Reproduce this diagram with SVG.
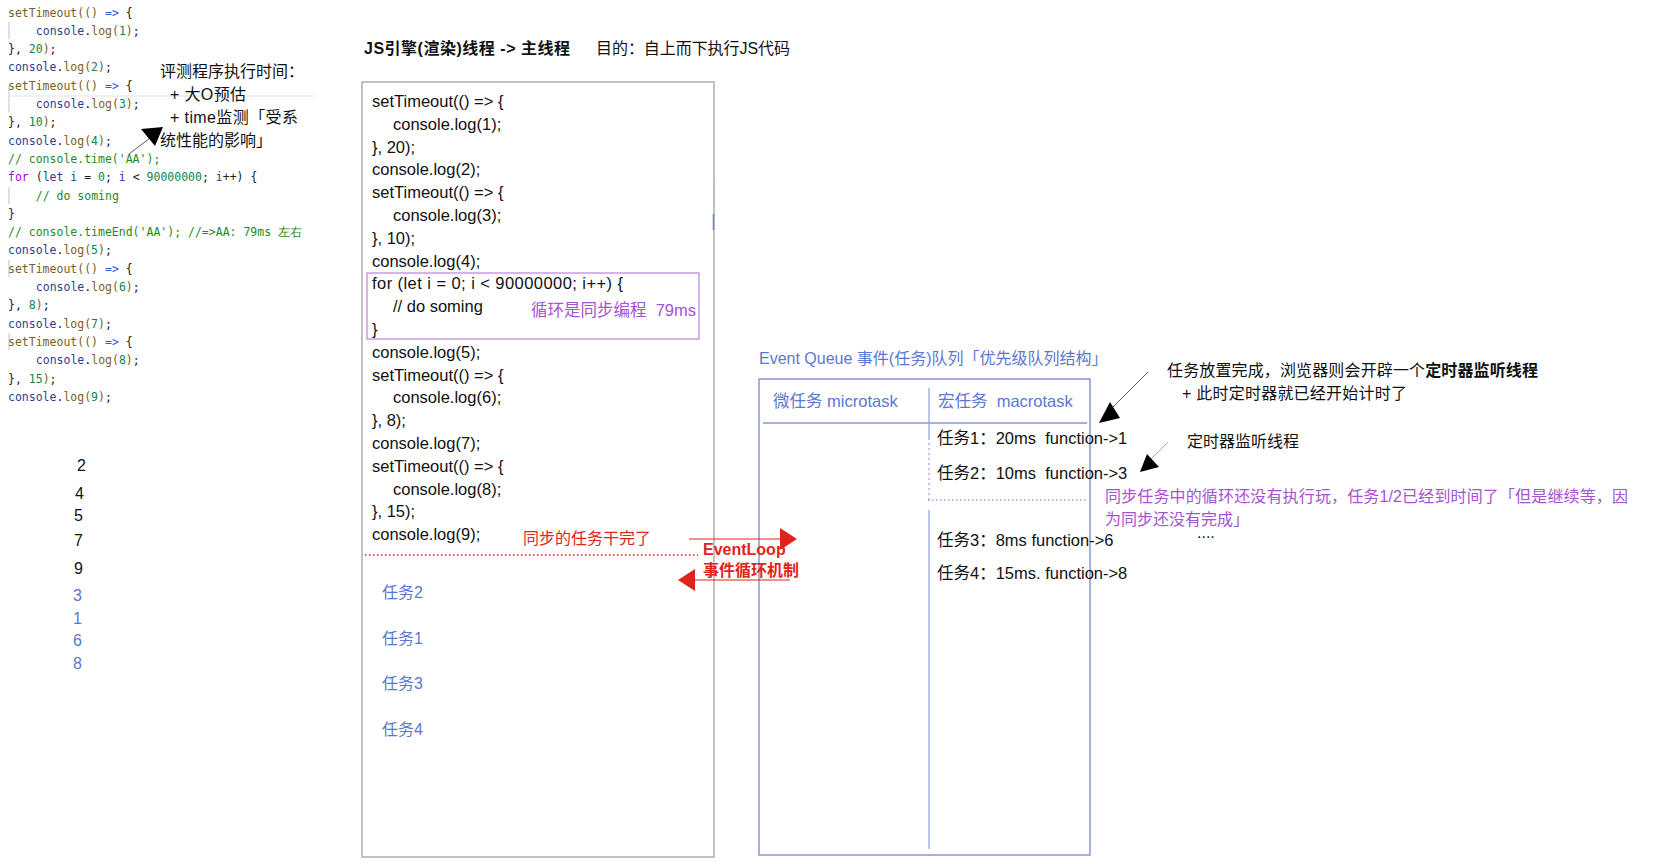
<svg xmlns="http://www.w3.org/2000/svg" width="1665" height="864" viewBox="0 0 1665 864">
<style>
text{font-family:"Liberation Sans","Noto Sans CJK SC",sans-serif;}
.mono text{font-family:"DejaVu Sans Mono","Liberation Mono",monospace;font-size:11.5px;fill:#222;}
.f{fill:#795e26}.op{fill:#3355e0}.o{fill:#2c3d8f}.n{fill:#098658}.mono text.cm{fill:#1e8a1e}.k{fill:#af00db}
.code text{font-size:16.5px;fill:#111;}
.ann text{font-size:16px;fill:#111;}
.blue{fill:#5b78d0;font-size:16px;}
.red{fill:#e0241c;font-size:16px;}
.purple,.ann text.purple{fill:#a552d3;}
.guide{stroke:#d6d6d6;stroke-width:1.5;}
</style>
<rect width="1665" height="864" fill="#ffffff"/>

<g id="left-code" class="mono">
<line x1="10" y1="96" x2="315" y2="96" stroke="#e2e2e2" stroke-width="1"/>
<line class="guide" x1="9" y1="22" x2="9" y2="39"/>
<line class="guide" x1="9" y1="86" x2="9" y2="112"/>
<line class="guide" x1="9" y1="187" x2="9" y2="204"/>
<line class="guide" x1="9" y1="260" x2="9" y2="277"/>
<line class="guide" x1="9" y1="333" x2="9" y2="350"/>
<text x="8" y="16.5"><tspan class="f">setTimeout(()</tspan> <tspan class="op">=&gt;</tspan> {</text>
<text x="35.8" y="34.8"><tspan class="o">console</tspan>.<tspan class="f">log(</tspan><tspan class="n">1</tspan><tspan class="f">)</tspan>;</text>
<text x="8" y="53.1">}, <tspan class="n">20</tspan><tspan class="f">)</tspan>;</text>
<text x="8" y="71.4"><tspan class="o">console</tspan>.<tspan class="f">log(</tspan><tspan class="n">2</tspan><tspan class="f">)</tspan>;</text>
<text x="8" y="89.7"><tspan class="f">setTimeout(()</tspan> <tspan class="op">=&gt;</tspan> {</text>
<text x="35.8" y="108"><tspan class="o">console</tspan>.<tspan class="f">log(</tspan><tspan class="n">3</tspan><tspan class="f">)</tspan>;</text>
<text x="8" y="126.3">}, <tspan class="n">10</tspan><tspan class="f">)</tspan>;</text>
<text x="8" y="144.6"><tspan class="o">console</tspan>.<tspan class="f">log(</tspan><tspan class="n">4</tspan><tspan class="f">)</tspan>;</text>
<text x="8" y="162.9" class="cm">// console.time('AA');</text>
<text x="8" y="181.2"><tspan class="k">for</tspan> (<tspan class="o">let i</tspan> = <tspan class="n">0</tspan>; <tspan class="o">i</tspan> &lt; <tspan class="n">90000000</tspan>; <tspan class="o">i</tspan>++) {</text>
<text x="35.8" y="199.5" class="cm">// do soming</text>
<text x="8" y="217.8">}</text>
<text x="8" y="236.1" class="cm">// console.timeEnd('AA'); //=&gt;AA: 79ms 左右</text>
<text x="8" y="254.4"><tspan class="o">console</tspan>.<tspan class="f">log(</tspan><tspan class="n">5</tspan><tspan class="f">)</tspan>;</text>
<text x="8" y="272.7"><tspan class="f">setTimeout(()</tspan> <tspan class="op">=&gt;</tspan> {</text>
<text x="35.8" y="291"><tspan class="o">console</tspan>.<tspan class="f">log(</tspan><tspan class="n">6</tspan><tspan class="f">)</tspan>;</text>
<text x="8" y="309.3">}, <tspan class="n">8</tspan><tspan class="f">)</tspan>;</text>
<text x="8" y="327.6"><tspan class="o">console</tspan>.<tspan class="f">log(</tspan><tspan class="n">7</tspan><tspan class="f">)</tspan>;</text>
<text x="8" y="345.9"><tspan class="f">setTimeout(()</tspan> <tspan class="op">=&gt;</tspan> {</text>
<text x="35.8" y="364.2"><tspan class="o">console</tspan>.<tspan class="f">log(</tspan><tspan class="n">8</tspan><tspan class="f">)</tspan>;</text>
<text x="8" y="382.5">}, <tspan class="n">15</tspan><tspan class="f">)</tspan>;</text>
<text x="8" y="400.8"><tspan class="o">console</tspan>.<tspan class="f">log(</tspan><tspan class="n">9</tspan><tspan class="f">)</tspan>;</text>
</g>

<g id="timing-note" class="ann">
<text x="160" y="76.5">评测程序执行时间：</text>
<text x="170" y="99.5" textLength="76">+ 大O预估</text>
<text x="170" y="122.5" textLength="128">+ time监测「受系</text>
<text x="160" y="145.5">统性能的影响」</text>
</g>

<g id="output" style="font-size:16px">
<text x="77" y="471" fill="#111">2</text>
<text x="75" y="499" fill="#111">4</text>
<text x="74" y="521" fill="#111">5</text>
<text x="74" y="546" fill="#111">7</text>
<text x="74" y="574" fill="#111">9</text>
<text x="73" y="601" fill="#5b78d0">3</text>
<text x="73" y="624" fill="#5b78d0">1</text>
<text x="73" y="646" fill="#5b78d0">6</text>
<text x="73" y="669" fill="#5b78d0">8</text>
</g>

<g id="title">
<text x="364" y="53.5" textLength="206" style="font-size:16px;font-weight:bold;fill:#111">JS引擎(渲染)线程 -&gt; 主线程</text>
<text x="596" y="53.5" textLength="194" style="font-size:16px;fill:#111">目的：自上而下执行JS代码</text>
</g>

<g id="main-thread">
<rect x="362" y="82" width="352" height="775" fill="none" stroke="#b3b3b3" stroke-width="1.6"/>
<line x1="713.5" y1="183" x2="713.5" y2="205" stroke="#9db0e0" stroke-width="1" stroke-dasharray="2,2"/>
<line x1="713.5" y1="214" x2="713.5" y2="230" stroke="#6a80c8" stroke-width="1.5"/>
<g class="code">
<text x="372" y="107">setTimeout(() =&gt; {</text>
<text x="393" y="129.8">console.log(1);</text>
<text x="372" y="152.6">}, 20);</text>
<text x="372" y="175.4">console.log(2);</text>
<text x="372" y="198.2">setTimeout(() =&gt; {</text>
<text x="393" y="221">console.log(3);</text>
<text x="372" y="243.8">}, 10);</text>
<text x="372" y="266.6">console.log(4);</text>
<text x="372" y="289.4" textLength="251">for (let i = 0; i &lt; 90000000; i++) {</text>
<text x="393" y="312.2">// do soming</text>
<text x="372" y="335">}</text>
<text x="372" y="357.8">console.log(5);</text>
<text x="372" y="380.6">setTimeout(() =&gt; {</text>
<text x="393" y="403.4">console.log(6);</text>
<text x="372" y="426.2">}, 8);</text>
<text x="372" y="449">console.log(7);</text>
<text x="372" y="471.8">setTimeout(() =&gt; {</text>
<text x="393" y="494.6">console.log(8);</text>
<text x="372" y="517.4">}, 15);</text>
<text x="372" y="540.2">console.log(9);</text>
</g>
</g>

<g id="loop-highlight">
<rect x="367" y="273" width="332" height="66" fill="none" stroke="#c08be0" stroke-width="1.3"/>
<text x="531" y="316" class="purple" style="font-size:16.5px">循环是同步编程&#160;&#160;79ms</text>
</g>

<g id="sync-done">
<line x1="365" y1="555" x2="698" y2="555" stroke="#e0241c" stroke-width="1.3" stroke-dasharray="1.5,2.5"/>
<text x="523" y="544" class="red">同步的任务干完了</text>
</g>

<g id="task-order" class="blue">
<text x="382" y="598">任务2</text>
<text x="382" y="644">任务1</text>
<text x="382" y="689">任务3</text>
<text x="382" y="735">任务4</text>
</g>

<g id="event-queue">
<text x="759" y="364" class="blue">Event Queue 事件(任务)队列「优先级队列结构」</text>
<rect x="759" y="379" width="331" height="476" fill="none" stroke="#8596d6" stroke-width="1.5"/>
<line x1="763" y1="423" x2="1087" y2="423" stroke="#8596d6" stroke-width="1.3"/>
<line x1="929" y1="388" x2="929" y2="440" stroke="#9aa8dc" stroke-width="1.3"/>
<line x1="929" y1="510" x2="929" y2="849" stroke="#9aa8dc" stroke-width="1.3"/>
<line x1="929" y1="443" x2="929" y2="503" stroke="#c08be0" stroke-width="1.2" stroke-dasharray="2,3"/>
<text x="773" y="407" class="blue" style="font-size:16.5px">微任务 microtask</text>
<text x="938" y="407" class="blue" style="font-size:16.5px">宏任务&#160;&#160;macrotask</text>
<g style="font-size:16.5px;fill:#111">
<text x="937" y="444">任务1：20ms&#160;&#160;function-&gt;1</text>
<text x="937" y="479">任务2：10ms&#160;&#160;function-&gt;3</text>
<text x="937" y="545.5">任务3：8ms function-&gt;6</text>
<text x="937" y="579">任务4：15ms. function-&gt;8</text>
</g>
<line x1="928" y1="500" x2="1087" y2="500" stroke="#c08be0" stroke-width="1.3" stroke-dasharray="1.5,2.5"/>
</g>

<g id="notes" class="ann">
<text x="1167" y="375.5" textLength="371">任务放置完成，浏览器则会开辟一个<tspan style="font-weight:bold">定时器监听线程</tspan></text>
<text x="1182" y="399" textLength="225">+ 此时定时器就已经开始计时了</text>
<text x="1187" y="446.5">定时器监听线程</text>
<text x="1105" y="502" class="purple" textLength="523">同步任务中的循环还没有执行玩，任务1/2已经到时间了「但是继续等，因</text>
<text x="1105" y="525" class="purple">为同步还没有完成」</text>
<text x="1197" y="538" style="font-size:16px">....</text>
</g>

<g id="connectors">
<line x1="129" y1="154" x2="150" y2="138" stroke="#333" stroke-width="0.8"/>
<polygon points="141,129 163,127 155,146" fill="#000"/>
<line x1="1148" y1="372" x2="1110" y2="410" stroke="#333" stroke-width="0.8"/>
<polygon points="1099,423 1110,402 1120,418" fill="#000"/>
<line x1="1168" y1="442" x2="1150" y2="460" stroke="#aaa" stroke-width="1"/>
<polygon points="1140,472 1147,454 1159,467" fill="#000"/>
<line x1="689" y1="539" x2="781" y2="539" stroke="#e0241c" stroke-width="1"/>
<polygon points="797,539 780,528 780,550" fill="#e0241c"/>
<text x="703" y="555" style="font-size:16px;fill:#e0241c;font-weight:bold">EventLoop</text>
<text x="703" y="576" style="font-size:16px;fill:#e0241c;font-weight:bold">事件循环机制</text>
<line x1="694" y1="580" x2="790" y2="580" stroke="#e0241c" stroke-width="1"/>
<polygon points="678,580 695,569 695,591" fill="#e0241c"/>
</g>
</svg>
